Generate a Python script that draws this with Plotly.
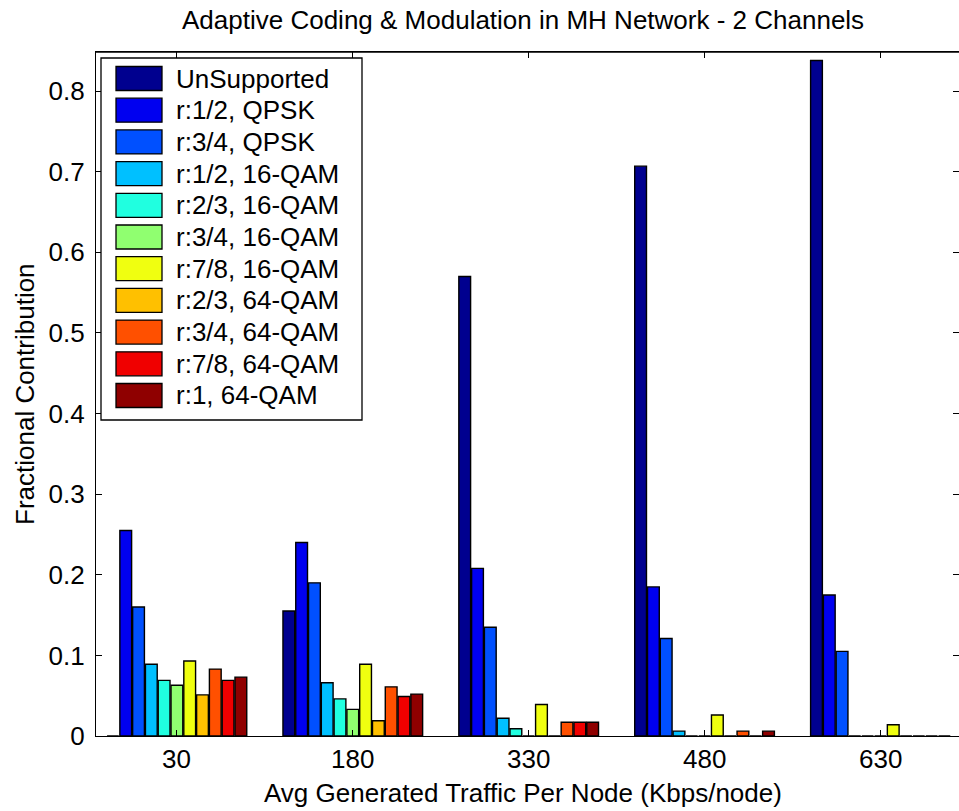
import plotly.graph_objects as go

categories = [30, 180, 330, 480, 630]
series_names = [
    "UnSupported", "r:1/2, QPSK", "r:3/4, QPSK", "r:1/2, 16-QAM", "r:2/3, 16-QAM",
    "r:3/4, 16-QAM", "r:7/8, 16-QAM", "r:2/3, 64-QAM", "r:3/4, 64-QAM",
    "r:7/8, 64-QAM", "r:1, 64-QAM",
]
unsupported = [0.0, 0.155, 0.570, 0.707, 0.838]
r12_qpsk = [0.255, 0.240, 0.208, 0.185, 0.175]
r34_qpsk = [0.160, 0.190, 0.135, 0.121, 0.105]
r12_16qam = [0.089, 0.066, 0.022, 0.006, 0.0]
r23_16qam = [0.069, 0.046, 0.009, 0.0, 0.0]
r34_16qam = [0.063, 0.033, 0.0, 0.0, 0.0]
r78_16qam = [0.093, 0.089, 0.039, 0.026, 0.014]
r23_64qam = [0.051, 0.019, 0.0, 0.0, 0.0]
r34_64qam = [0.083, 0.061, 0.017, 0.006, 0.0]
r78_64qam = [0.069, 0.049, 0.017, 0.0, 0.0]
r1_64qam = [0.073, 0.052, 0.017, 0.006, 0.0]
series_values = [unsupported, r12_qpsk, r34_qpsk, r12_16qam, r23_16qam, r34_16qam,
                 r78_16qam, r23_64qam, r34_64qam, r78_64qam, r1_64qam]
colors = ["#00008F", "#0000F0", "#0050FF", "#00C0FF", "#20FFE0", "#90FF70",
          "#F0FF10", "#FFC000", "#FF5000", "#F00000", "#8F0000"]
x_tick_labels = ["30", "180", "330", "480", "630"]
y_ticks = [0, 0.1, 0.2, 0.3, 0.4, 0.5, 0.6, 0.7, 0.8]
y_tick_labels = ["0", "0.1", "0.2", "0.3", "0.4", "0.5", "0.6", "0.7", "0.8"]

FONT = "Liberation Sans, Arial, sans-serif"
FS = 26

fig = go.Figure()
for name, vals, col in zip(series_names, series_values, colors):
    fig.add_trace(go.Bar(x=categories, y=vals, name=name,
                         marker=dict(color=col, line=dict(color="black", width=1.4)),
                         showlegend=False))

W, H = 959, 811
L, R, T, B = 96, 0, 52, 75
pw, ph = W - L - R, H - T - B

def px(x):
    return (x - L) / pw
def py(y):
    return 1 - (y - T) / ph

shapes = []
annotations = []
# top frame line
shapes.append(dict(type="line", xref="paper", yref="paper", x0=0, x1=1, y0=1, y1=1,
                   line=dict(color="black", width=1.3)))

# custom legend (MATLAB style) in paper coordinates
leg_left, leg_top, leg_right, leg_bottom = 101, 58, 362, 420
shapes.append(dict(type="rect", xref="paper", yref="paper",
                   x0=px(leg_left), x1=px(leg_right), y0=py(leg_bottom), y1=py(leg_top),
                   line=dict(color="black", width=1.3), fillcolor="white", layer="above"))
row_h = 31.7
first_c = 78.5
for i, (name, col) in enumerate(zip(series_names, colors)):
    cy = first_c + i * row_h
    shapes.append(dict(type="rect", xref="paper", yref="paper",
                       x0=px(116), x1=px(162), y0=py(cy + 12), y1=py(cy - 12),
                       line=dict(color="black", width=1.3), fillcolor=col, layer="above"))
    annotations.append(dict(text=name, xref="paper", yref="paper", x=px(174), y=py(cy),
                            xanchor="left", yanchor="middle", showarrow=False,
                            font=dict(family=FONT, size=FS, color="black")))

# x tick labels (placed exactly under the ticks)
for c, lab in zip(categories, x_tick_labels):
    annotations.append(dict(text=lab, xref="x", yref="paper", x=c, y=py(759),
                            xanchor="center", yanchor="middle", showarrow=False,
                            font=dict(family=FONT, size=FS, color="black")))

annotations.append(dict(text="Avg Generated Traffic Per Node (Kbps/node)", xref="paper",
                        yref="paper", x=px(523), y=py(793), xanchor="center", yanchor="middle",
                        showarrow=False, font=dict(family=FONT, size=FS, color="black")))
annotations.append(dict(text="Fractional Contribution", xref="paper", yref="paper",
                        x=px(25), y=0.5, xanchor="center", yanchor="middle", textangle=-90,
                        showarrow=False, font=dict(family=FONT, size=FS, color="black")))
annotations.append(dict(text="Adaptive Coding & Modulation in MH Network - 2 Channels",
                        xref="paper", yref="paper", x=px(523), y=py(20), xanchor="center",
                        yanchor="middle", showarrow=False,
                        font=dict(family=FONT, size=FS, color="black")))

fig.update_layout(
    width=W, height=H,
    margin=dict(l=L, r=R, t=T, b=B, pad=0),
    paper_bgcolor="white", plot_bgcolor="white",
    barmode="group", bargap=0.2, bargroupgap=0.08,
    font=dict(family=FONT, size=FS, color="black"),
    xaxis=dict(range=[-39, 697], tickvals=categories, showticklabels=False,
               ticks="inside", ticklen=6, tickcolor="black", showline=True, linecolor="black",
               linewidth=1.3, mirror="ticks", showgrid=False, zeroline=False,
               automargin=False),
    yaxis=dict(range=[0, 0.8486], tickvals=y_ticks, ticktext=y_tick_labels,
               ticks="inside", ticklen=6, tickcolor="black", showline=True, linecolor="black",
               linewidth=1.3, mirror="ticks", showgrid=False, zeroline=False,
               automargin=False, ticklabelstandoff=5,
               tickfont=dict(family=FONT, size=FS)),
    shapes=shapes, annotations=annotations,
)

fig.write_html("out.html", config={"displayModeBar": False},
               post_script="document.body.style.margin='0';document.body.style.overflow='hidden';")
